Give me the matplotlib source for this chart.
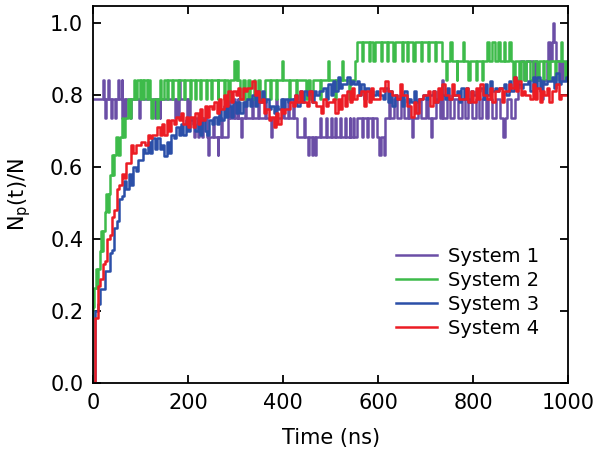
"""Fraction N_p(t)/N vs time for four systems."""
import numpy as np
import matplotlib
matplotlib.use("Agg")
import matplotlib.pyplot as plt

# ---- System 1 (purple): change points (ns) and levels, steps-post ----
s1_t = [0, 21, 23, 25, 27, 32, 34, 37, 39, 46, 48, 52, 54, 60, 62, 64, 67, 69, 78, 80,
        96, 98, 131, 133, 140, 141, 173, 175, 179, 181, 183, 198, 200, 205, 212, 214,
        220, 223, 230, 232, 240, 242, 244, 252, 254, 262, 264, 270, 272, 284, 286, 288,
        296, 298, 305, 306, 312, 314, 320, 322, 335, 337, 348, 350, 362, 364, 375, 377,
        385, 388, 398, 402, 410, 413, 420, 423, 430, 445, 447, 452, 454, 460, 463, 467,
        469, 478, 480, 490, 492, 500, 502, 510, 511, 520, 522, 530, 532, 540, 541, 548,
        550, 556, 566, 568, 576, 578, 588, 590, 598, 602, 606, 612, 615, 622, 626, 634,
        640, 648, 655, 662, 666, 672, 674, 684, 690, 700, 706, 712, 714, 722, 730, 735,
        737, 745, 752, 760, 768, 776, 782, 790, 798, 805, 812, 818, 826, 832, 840, 848,
        856, 863, 866, 872, 880, 888, 895, 898, 908, 912, 925, 930, 935, 945, 948, 955,
        958, 962, 966, 968, 971, 975, 980, 984, 990, 995, 1000]
s1_v = [0.789, 0.842, 0.789, 0.737, 0.789, 0.842, 0.789, 0.737, 0.789, 0.737, 0.789, 0.842,
        0.789, 0.842, 0.737, 0.789, 0.737, 0.789, 0.737, 0.789, 0.737, 0.789, 0.737, 0.789,
        0.737, 0.789, 0.737, 0.789, 0.737, 0.842, 0.789, 0.737, 0.789, 0.737, 0.684, 0.737,
        0.684, 0.737, 0.684, 0.737, 0.684, 0.632, 0.684, 0.737, 0.684, 0.632, 0.684, 0.737,
        0.684, 0.737, 0.789, 0.737, 0.789, 0.737, 0.789, 0.737, 0.684, 0.737, 0.789, 0.737,
        0.789, 0.737, 0.789, 0.737, 0.789, 0.737, 0.684, 0.737, 0.789, 0.737, 0.789, 0.737,
        0.789, 0.737, 0.789, 0.737, 0.684, 0.737, 0.684, 0.632, 0.684, 0.632, 0.684, 0.632,
        0.684, 0.737, 0.684, 0.737, 0.684, 0.737, 0.684, 0.737, 0.684, 0.737, 0.684, 0.737,
        0.684, 0.737, 0.684, 0.737, 0.684, 0.737, 0.684, 0.737, 0.684, 0.737, 0.684, 0.737,
        0.684, 0.632, 0.684, 0.632, 0.737, 0.789, 0.737, 0.789, 0.737, 0.789, 0.737, 0.789,
        0.737, 0.684, 0.737, 0.789, 0.737, 0.789, 0.737, 0.684, 0.737, 0.789, 0.737, 0.842,
        0.737, 0.789, 0.737, 0.789, 0.737, 0.789, 0.737, 0.789, 0.737, 0.789, 0.737, 0.789,
        0.737, 0.789, 0.737, 0.789, 0.737, 0.684, 0.737, 0.789, 0.737, 0.789, 0.842, 0.895,
        0.842, 0.895, 0.842, 0.895, 0.842, 0.789, 0.842, 0.895, 0.947, 0.895, 0.947, 1.0,
        0.947, 0.895, 0.842, 0.895, 0.842, 0.895, 0.842]

# ---- System 2 (green): change points and levels ----
s2_t = [0, 1, 3, 6, 9, 11, 14, 17, 19, 22, 25, 28, 31, 33, 36, 39, 42, 45, 49, 53, 56, 60,
        64, 68, 73, 77, 81, 86, 89, 92, 98, 100, 106, 108, 114, 116, 121, 123, 126, 134,
        136, 142, 144, 149, 156, 158, 166, 168, 178, 180, 191, 193, 204, 206, 214, 216,
        226, 228, 238, 240, 248, 251, 262, 264, 275, 277, 285, 288, 297, 300, 302, 305,
        310, 316, 319, 327, 330, 338, 341, 348, 352, 362, 372, 374, 386, 388, 398, 400,
        412, 414, 428, 430, 448, 452, 456, 462, 478, 480, 495, 497, 510, 512, 525, 527,
        538, 540, 552, 556, 566, 568, 580, 582, 590, 594, 606, 608, 618, 620, 632, 636,
        650, 652, 660, 662, 674, 677, 690, 692, 706, 708, 720, 722, 735, 742, 745, 752,
        755, 765, 767, 778, 781, 790, 793, 805, 808, 818, 820, 830, 833, 840, 845, 852,
        856, 864, 868, 876, 879, 884, 888, 896, 900, 908, 912, 920, 925, 934, 938, 946,
        950, 958, 962, 972, 975, 985, 987, 994, 997, 1000]
s2_v = [0.0, 0.211, 0.263, 0.316, 0.263, 0.316, 0.368, 0.421, 0.368, 0.421, 0.474, 0.526,
        0.474, 0.526, 0.579, 0.632, 0.579, 0.632, 0.684, 0.632, 0.684, 0.737, 0.684, 0.737,
        0.789, 0.737, 0.789, 0.842, 0.789, 0.842, 0.789, 0.842, 0.789, 0.842, 0.789, 0.842,
        0.789, 0.737, 0.789, 0.737, 0.789, 0.842, 0.789, 0.842, 0.789, 0.842, 0.789, 0.842,
        0.789, 0.842, 0.789, 0.842, 0.789, 0.842, 0.789, 0.842, 0.789, 0.842, 0.789, 0.842,
        0.789, 0.842, 0.789, 0.842, 0.789, 0.842, 0.789, 0.842, 0.895, 0.842, 0.895, 0.842,
        0.789, 0.842, 0.789, 0.842, 0.789, 0.842, 0.789, 0.842, 0.789, 0.842, 0.789, 0.842,
        0.789, 0.842, 0.895, 0.842, 0.789, 0.842, 0.789, 0.842, 0.789, 0.842, 0.789, 0.842,
        0.789, 0.842, 0.895, 0.842, 0.789, 0.842, 0.895, 0.842, 0.789, 0.842, 0.895, 0.947,
        0.895, 0.947, 0.895, 0.947, 0.895, 0.947, 0.895, 0.947, 0.895, 0.947, 0.895, 0.947,
        0.895, 0.947, 0.895, 0.947, 0.895, 0.947, 0.895, 0.947, 0.895, 0.947, 0.895, 0.947,
        0.895, 0.842, 0.895, 0.947, 0.895, 0.842, 0.895, 0.947, 0.895, 0.842, 0.895, 0.842,
        0.895, 0.842, 0.895, 0.947, 0.895, 0.947, 0.895, 0.947, 0.895, 0.947, 0.895, 0.947,
        0.895, 0.842, 0.895, 0.842, 0.895, 0.842, 0.895, 0.842, 0.895, 0.842, 0.895, 0.842,
        0.895, 0.842, 0.895, 0.842, 0.895, 0.947, 0.895, 0.842, 0.895, 0.895]

# ---- Systems 3 and 4: one value every 5 ns (rows of 50 ns) ----
s3_v = [0.00, 0.20, 0.22, 0.26, 0.26, 0.31, 0.31, 0.36, 0.37, 0.43,
        0.45, 0.51, 0.52, 0.56, 0.54, 0.58, 0.55, 0.60, 0.59, 0.62,
        0.62, 0.65, 0.64, 0.67, 0.64, 0.68, 0.65, 0.68, 0.65, 0.66,
        0.63, 0.67, 0.64, 0.69, 0.68, 0.71, 0.69, 0.72, 0.69, 0.73,
        0.70, 0.73, 0.72, 0.70, 0.73, 0.69, 0.73, 0.70, 0.69, 0.73,
        0.72, 0.74, 0.72, 0.76, 0.73, 0.77, 0.74, 0.77, 0.74, 0.78,
        0.75, 0.78, 0.75, 0.78, 0.77, 0.79, 0.77, 0.80, 0.77, 0.81,
        0.78, 0.81, 0.78, 0.79, 0.76, 0.77, 0.75, 0.77, 0.76, 0.79,
        0.76, 0.79, 0.78, 0.79, 0.79, 0.80, 0.77, 0.81, 0.78, 0.81,
        0.80, 0.81, 0.78, 0.81, 0.80, 0.81, 0.81, 0.82, 0.79, 0.83,
        0.80, 0.84, 0.81, 0.85, 0.82, 0.83, 0.83, 0.85, 0.83, 0.84,
        0.83, 0.84, 0.80, 0.83, 0.79, 0.82, 0.81, 0.81, 0.80, 0.81,
        0.80, 0.80, 0.79, 0.82, 0.78, 0.81, 0.77, 0.80, 0.79, 0.80,
        0.77, 0.81, 0.78, 0.79, 0.78, 0.81, 0.78, 0.79, 0.79, 0.80,
        0.79, 0.80, 0.80, 0.81, 0.78, 0.81, 0.80, 0.80, 0.79, 0.82,
        0.79, 0.80, 0.80, 0.81, 0.78, 0.82, 0.79, 0.82, 0.78, 0.81,
        0.80, 0.81, 0.81, 0.82, 0.79, 0.83, 0.80, 0.84, 0.81, 0.82,
        0.81, 0.82, 0.82, 0.83, 0.80, 0.84, 0.81, 0.85, 0.82, 0.83,
        0.82, 0.83, 0.83, 0.84, 0.81, 0.85, 0.82, 0.85, 0.81, 0.84,
        0.83, 0.84, 0.84, 0.85, 0.82, 0.86, 0.83, 0.84, 0.84, 0.85,
        0.85]
s4_v = [0.00, 0.18, 0.27, 0.29, 0.33, 0.34, 0.40, 0.41, 0.46, 0.48,
        0.54, 0.55, 0.58, 0.57, 0.61, 0.61, 0.66, 0.64, 0.66, 0.66,
        0.67, 0.67, 0.66, 0.69, 0.68, 0.69, 0.69, 0.71, 0.69, 0.72,
        0.69, 0.73, 0.70, 0.73, 0.72, 0.74, 0.73, 0.75, 0.72, 0.74,
        0.71, 0.74, 0.71, 0.75, 0.72, 0.76, 0.73, 0.77, 0.74, 0.77,
        0.76, 0.78, 0.75, 0.79, 0.76, 0.80, 0.77, 0.81, 0.78, 0.81,
        0.80, 0.82, 0.79, 0.82, 0.81, 0.82, 0.82, 0.84, 0.80, 0.81,
        0.78, 0.79, 0.75, 0.76, 0.73, 0.74, 0.71, 0.75, 0.72, 0.76,
        0.75, 0.76, 0.76, 0.78, 0.77, 0.80, 0.78, 0.81, 0.78, 0.78,
        0.77, 0.81, 0.78, 0.78, 0.77, 0.77, 0.75, 0.79, 0.77, 0.78,
        0.78, 0.79, 0.75, 0.79, 0.76, 0.80, 0.77, 0.81, 0.78, 0.82,
        0.79, 0.80, 0.80, 0.81, 0.77, 0.81, 0.78, 0.82, 0.79, 0.79,
        0.79, 0.82, 0.81, 0.84, 0.81, 0.81, 0.80, 0.80, 0.79, 0.83,
        0.80, 0.80, 0.77, 0.77, 0.74, 0.78, 0.75, 0.79, 0.79, 0.80,
        0.80, 0.81, 0.77, 0.81, 0.78, 0.82, 0.79, 0.83, 0.80, 0.80,
        0.79, 0.83, 0.80, 0.80, 0.79, 0.79, 0.79, 0.82, 0.78, 0.81,
        0.78, 0.82, 0.79, 0.83, 0.80, 0.80, 0.79, 0.82, 0.78, 0.81,
        0.81, 0.82, 0.78, 0.81, 0.81, 0.83, 0.82, 0.85, 0.81, 0.84,
        0.80, 0.81, 0.80, 0.80, 0.79, 0.83, 0.79, 0.82, 0.78, 0.81,
        0.80, 0.82, 0.78, 0.81, 0.81, 0.83, 0.79, 0.80, 0.80, 0.80,
        0.81]

LABELS = ["System 1", "System 2", "System 3", "System 4"]
COLORS = ["#6b4ea6", "#3dbb4a", "#2b4fa8", "#ec1c24"]

plt.rcParams["font.family"] = ["DejaVu Sans"]

fig = plt.figure(figsize=(6.0, 4.61), dpi=100)
ax = fig.add_axes([0.155, 0.169, 0.792, 0.818])

t3 = np.arange(len(s3_v)) * 5.0
t4 = np.arange(len(s4_v)) * 5.0
series = [(s1_t, s1_v), (s2_t, s2_v), (t3, s3_v), (t4, s4_v)]
for (t, v), lbl, c in zip(series, LABELS, COLORS):
    ax.plot(t, v, drawstyle="steps-post", color=c, lw=1.8, label=lbl)

ax.set_xlim(0, 1000)
ax.set_ylim(0, 1.047)
ax.set_xticks([0, 200, 400, 600, 800, 1000])
ax.set_yticks([0.0, 0.2, 0.4, 0.6, 0.8, 1.0])
ax.set_yticklabels(["0.0", "0.2", "0.4", "0.6", "0.8", "1.0"])
ax.tick_params(direction="in", length=6, width=1.3, top=True, right=True,
               labelsize=15, pad=7)
for sp in ax.spines.values():
    sp.set_linewidth(1.3)

ax.set_xlabel("Time (ns)", fontsize=15, labelpad=11)
ax.set_ylabel(r"N$_\mathrm{p}$(t)/N", fontsize=15, labelpad=12)

ax.legend(loc="center left", bbox_to_anchor=(0.6, 0.24), frameon=False,
          fontsize=14, handlelength=2.15, labelspacing=0.25, handletextpad=0.55)

fig.savefig("out.png", dpi=100)
